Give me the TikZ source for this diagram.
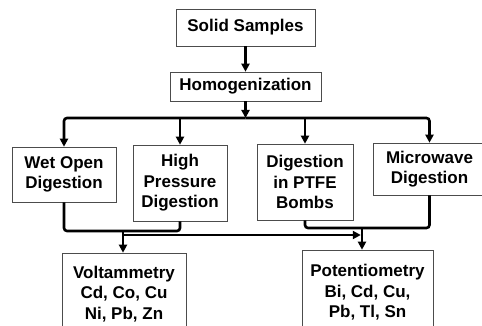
\documentclass[tikz,border=0pt]{standalone}
\usepackage{fontspec}
\setmainfont{Liberation Sans}
\usetikzlibrary{arrows.meta}
\begin{document}
\begin{tikzpicture}[x=1pt,y=-1pt,
  box/.style={draw=black!70,line width=0.6pt,align=center,inner sep=0pt,
    font=\bfseries\fontsize{17}{20.5}\selectfont},
  conn/.style={line width=2.6pt,rounded corners=3pt},
  arr/.style={conn,-{Triangle[length=8pt,width=8pt]}}]
\useasboundingbox (0,0) rectangle (482,326);
\node[box,minimum width=139pt,minimum height=37pt] (solid) at (245.5,27.5) {Solid Samples};
\node[box,minimum width=151pt,minimum height=29pt] (homog) at (245.5,86.5) {Homogenization};
\node[box,minimum width=104pt,minimum height=55pt] (wet) at (64,174.5) {Wet Open\\Digestion};
\node[box,minimum width=94pt,minimum height=76pt] (high) at (180,183) {High\\Pressure\\Digestion};
\node[box,minimum width=96pt,minimum height=76pt] (ptfe) at (305,182) {Digestion\\in PTFE\\Bombs};
\node[box,minimum width=113pt,minimum height=52pt] (micro) at (429.5,169) {Microwave\\Digestion};
\node[box,minimum width=124pt,minimum height=82pt] (volt) at (124,294) {Voltammetry\\Cd, Co, Cu\\Ni, Pb, Zn};
\node[box,minimum width=131pt,minimum height=85pt] (pot) at (367.5,292.5) {Potentiometry\\Bi, Cd, Cu,\\Pb, Tl, Sn};
% top connectors
\draw[arr] (solid) -- (homog);
\coordinate (bus) at (245.5,118);
\draw[arr] (homog) -- (bus);
\draw[arr] (bus) -| (wet.north);
\draw[arr] (bus) -| (micro.north);
\draw[arr] (high.north |- bus) -- (high.north);
\draw[arr] (ptfe.north |- bus) -- (ptfe.north);
% bottom connectors
\coordinate (vj) at (123,231);
\coordinate (pj) at (362,228);
\coordinate (h1) at (123,235);
\draw[conn] (wet.south) |- (high.south |- vj) -- (high.south);
\draw[arr] (vj) -- (vj |- volt.north);
\draw[conn] (ptfe.south) |- (micro.south |- pj) -- (micro.south);
\draw[arr] (pj) -- (pj |- pot.north);
\draw[arr,shorten >=1.2pt] (h1) -- (h1 -| pj);
\end{tikzpicture}
\end{document}
